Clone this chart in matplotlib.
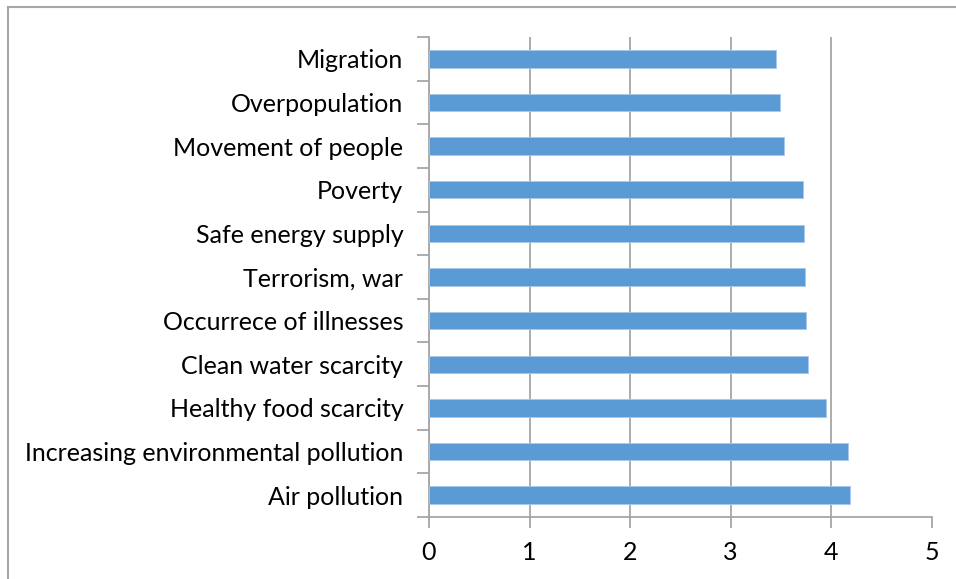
import matplotlib
matplotlib.use("Agg")
import matplotlib.pyplot as plt
from matplotlib.lines import Line2D

# mean rating per concern, listed bottom to top
concerns = [
    "Air pollution",
    "Increasing environmental pollution",
    "Healthy food scarcity",
    "Clean water scarcity",
    "Occurrece of illnesses",
    "Terrorism, war",
    "Safe energy supply",
    "Poverty",
    "Movement of people",
    "Overpopulation",
    "Migration",
]
scores = [4.19, 4.17, 3.95, 3.77, 3.75, 3.74, 3.73, 3.72, 3.53, 3.49, 3.45]
x_ticks = [0, 1, 2, 3, 4, 5]

plt.rcParams["font.family"] = ["Lato", "DejaVu Sans"]
grey = "#a6a6a6"

fig = plt.figure(figsize=(9.56, 5.79), dpi=100)
ax = fig.add_axes([429 / 956, 1 - 517 / 579, 502.5 / 956, 480 / 579])

ypos = range(len(concerns))
ax.barh(ypos, scores, height=0.4, color="#5b9bd5", edgecolor="#a9c8ea",
        linewidth=0.6, zorder=3)

ax.set_xlim(0, 5)
ax.set_ylim(-0.5, len(concerns) - 0.5)
ax.set_xticks(x_ticks)
ax.set_yticks(list(ypos))
ax.set_yticklabels(concerns)
ax.set_yticks([i - 0.5 for i in range(len(concerns) + 1)], minor=True)

ax.grid(axis="x", color=grey, linewidth=1.3, zorder=0)
for side in ["top", "right"]:
    ax.spines[side].set_visible(False)
for side in ["left", "bottom"]:
    ax.spines[side].set_color(grey)
    ax.spines[side].set_linewidth(1.3)

ax.tick_params(axis="x", length=8, width=1.3, color=grey, labelsize=18,
               pad=9, labelcolor="black")
ax.tick_params(axis="y", which="major", length=0, labelsize=18, pad=18.5,
               labelcolor="black")
ax.tick_params(axis="y", which="minor", length=9, width=1.3, color=grey)

# chart area border along the top and left edges
fig.add_artist(Line2D([7.5 / 956, 7.5 / 956], [0, 1 - 7 / 579],
                      transform=fig.transFigure, color=grey, linewidth=1.5))
fig.add_artist(Line2D([7.5 / 956, 1], [1 - 7 / 579, 1 - 7 / 579],
                      transform=fig.transFigure, color=grey, linewidth=1.5))

fig.savefig("out.png", dpi=100)
